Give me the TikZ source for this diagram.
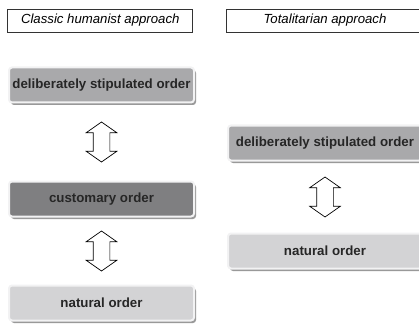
\documentclass[tikz,border=0pt]{standalone}
\usepackage{fontspec}
\setmainfont{Liberation Sans}
\usetikzlibrary{shapes.arrows,shadows,calc}
\definecolor{delibgray}{HTML}{A9A9AB}
\definecolor{custgray}{HTML}{7F7F81}
\definecolor{natgray}{HTML}{D3D3D5}
\definecolor{rimgray}{HTML}{F2F2F3}
\begin{document}
\begin{tikzpicture}[x=1pt,y=-1pt,
  head/.style={draw=black!80,line width=0.6pt,minimum height=23pt,inner sep=0pt,
    font=\itshape\fontsize{13.2}{15}\selectfont},
  order/.style={rounded corners=3pt,draw=rimgray,line width=2pt,minimum height=35pt,
    inner sep=0pt,text=black!85,font=\bfseries\fontsize{13.3}{15}\selectfont,
    drop shadow={shadow xshift=2pt,shadow yshift=-2.5pt,fill=black!40,opacity=1}},
  updown/.style={double arrow,draw,line width=0.7pt,fill=white,shape border rotate=90,
    inner sep=8pt,minimum height=40pt,double arrow head extend=7pt,
    double arrow tip angle=110}]
\useasboundingbox (0,0) rectangle (419,323);

% headings
\node[head,minimum width=185pt] (hl) at (100.25,20.5) {Classic humanist approach};
\node[head,minimum width=198pt] (hr) at (325,20.5) {Totalitarian approach};

% classic humanist column
\node[order,fill=delibgray,minimum width=185pt] (ld) at (101.5,85) {deliberately stipulated order};
\node[order,fill=custgray,minimum width=185pt] (lc) at (101.5,199) {customary order};
\node[order,fill=natgray,minimum width=185pt] (ln) at (101.5,303) {natural order};

% totalitarian column
\node[order,fill=delibgray,minimum width=194pt] (rd) at (325,143) {deliberately stipulated order};
\node[order,fill=natgray,minimum width=194pt] (rn) at (325,251) {natural order};

% double arrows between the orders
\node[updown] (a1) at ($(ld)!0.5!(lc)$) {};
\node[updown] (a2) at ($(lc)!0.5!(ln)$) {};
\node[updown] (a3) at ($(rd)!0.5!(rn)$) {};
\end{tikzpicture}
\end{document}
